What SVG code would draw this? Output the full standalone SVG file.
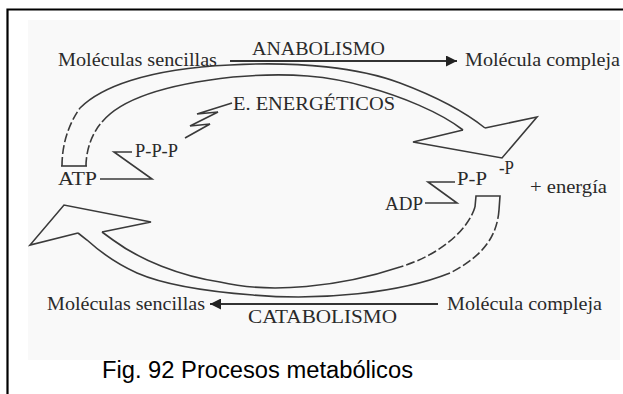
<svg xmlns="http://www.w3.org/2000/svg" width="623" height="394" viewBox="0 0 623 394">
<defs>
<style>
.t{font-family:"Liberation Serif","Times New Roman",serif;font-size:19px;fill:#2a2a2a}
.s{fill:none;stroke:#3a3a3a;stroke-width:1.6;stroke-linejoin:miter}
.d{fill:none;stroke:#3a3a3a;stroke-width:1.6;stroke-dasharray:9 3}
.a{fill:none;stroke:#333;stroke-width:2}
.cap{font-family:"Liberation Sans",Arial,sans-serif;font-size:23px;fill:#000}
</style>
<marker id="ah" viewBox="0 0 10 10" refX="10" refY="5" markerWidth="13" markerHeight="11" markerUnits="userSpaceOnUse" orient="auto">
<path d="M0,0 L10,5 L0,10 Z" fill="#222"/>
</marker>
</defs>
<rect x="0" y="0" width="623" height="394" fill="#fff"/>
<rect x="28" y="20" width="592" height="340" fill="#f9f9f9"/>
<path d="M7.5,394 L7.5,9.5 L623,9.5" fill="none" stroke="#000" stroke-width="2.2"/>

<g id="connectors">
  <!-- anabolism line -->
  <path class="a" d="M230,61 L457,61" marker-end="url(#ah)"/>
  <!-- catabolism line -->
  <path class="a" d="M438,304 L210,304" marker-end="url(#ah)"/>
  <!-- upper ribbon arrow (ATP -> -P) -->
  <path class="d" d="M62,166 C62,145 68,125 80,108"/>
  <path class="s" d="M80,108 C100,88 145,69 230,65 C300,61 360,68 400,83 C440,98 465,112 485,128"/>
  <path class="d" d="M86,166 C86,150 92,133 102,122"/>
  <path class="s" d="M102,122 C120,100 160,85 233,77 C290,72 330,76 367,87 C400,96 440,112 463,130"/>
  <path class="s" d="M485,128 L537,117 L502,158 L413,142 L463,130"/>
  <path class="s" d="M61,166 L87,166"/>
  <!-- lower ribbon arrow (ADP -> ATP) -->
  <path class="s" d="M475,207 L476,196 L500,196 L499,210"/>
  <path class="d" d="M475,207 C468,230 440,255 400,267"/>
  <path class="s" d="M400,267 C340,287 270,294 220,282 C180,276 140,260 113,240 L102,232"/>
  <path class="d" d="M499,210 C497,235 485,255 450,273"/>
  <path class="s" d="M450,273 C400,293 320,301 253,295 C200,291 160,283 137,273 C115,263 98,250 87,240 L78,233"/>
  <path class="s" d="M102,232 L151,222 L64,205 L30,245 L78,233"/>
  <!-- ATP / ADP links -->
  <path class="s" d="M100,179 L152,179 L114,152 L132,152"/>
  <path class="s" d="M425,203 L457,203 L428,182 L455,182"/>
  <!-- energy bolt -->
  <path class="s" d="M232,103 L197,114 L218,112 L190,126 L210,124 L185,138"/>
</g>

<g id="mol-sencillas-top"><text class="t" x="58" y="66" textLength="159" lengthAdjust="spacingAndGlyphs">Moléculas sencillas</text></g>
<g id="anabolismo"><text class="t" x="252" y="55" textLength="133" lengthAdjust="spacingAndGlyphs">ANABOLISMO</text></g>
<g id="mol-compleja-top"><text class="t" x="465" y="66" textLength="155" lengthAdjust="spacingAndGlyphs">Molécula compleja</text></g>
<g id="e-energeticos"><text class="t" x="233" y="110" textLength="162" lengthAdjust="spacingAndGlyphs">E. ENERGÉTICOS</text></g>
<g id="ppp"><text class="t" x="135" y="157" textLength="43" lengthAdjust="spacingAndGlyphs">P-P-P</text></g>
<g id="atp"><text class="t" x="58" y="185" textLength="39" lengthAdjust="spacingAndGlyphs">ATP</text></g>
<g id="p"><text class="t" x="499" y="174" textLength="15" lengthAdjust="spacingAndGlyphs">-P</text></g>
<g id="pp"><text class="t" x="457" y="185" textLength="30" lengthAdjust="spacingAndGlyphs">P-P</text></g>
<g id="adp"><text class="t" x="385" y="210" textLength="38" lengthAdjust="spacingAndGlyphs">ADP</text></g>
<g id="energia"><text class="t" x="530" y="193" style="font-size:18px" textLength="77" lengthAdjust="spacingAndGlyphs">+ energía</text></g>
<g id="mol-sencillas-bottom"><text class="t" x="47" y="310" textLength="158" lengthAdjust="spacingAndGlyphs">Moléculas sencillas</text></g>
<g id="catabolismo"><text class="t" x="248" y="323" textLength="149" lengthAdjust="spacingAndGlyphs">CATABOLISMO</text></g>
<g id="mol-compleja-bottom"><text class="t" x="447" y="310" textLength="155" lengthAdjust="spacingAndGlyphs">Molécula compleja</text></g>
<g id="caption"><text class="cap" x="102" y="378" textLength="311" lengthAdjust="spacingAndGlyphs">Fig. 92 Procesos metabólicos</text></g>
</svg>
